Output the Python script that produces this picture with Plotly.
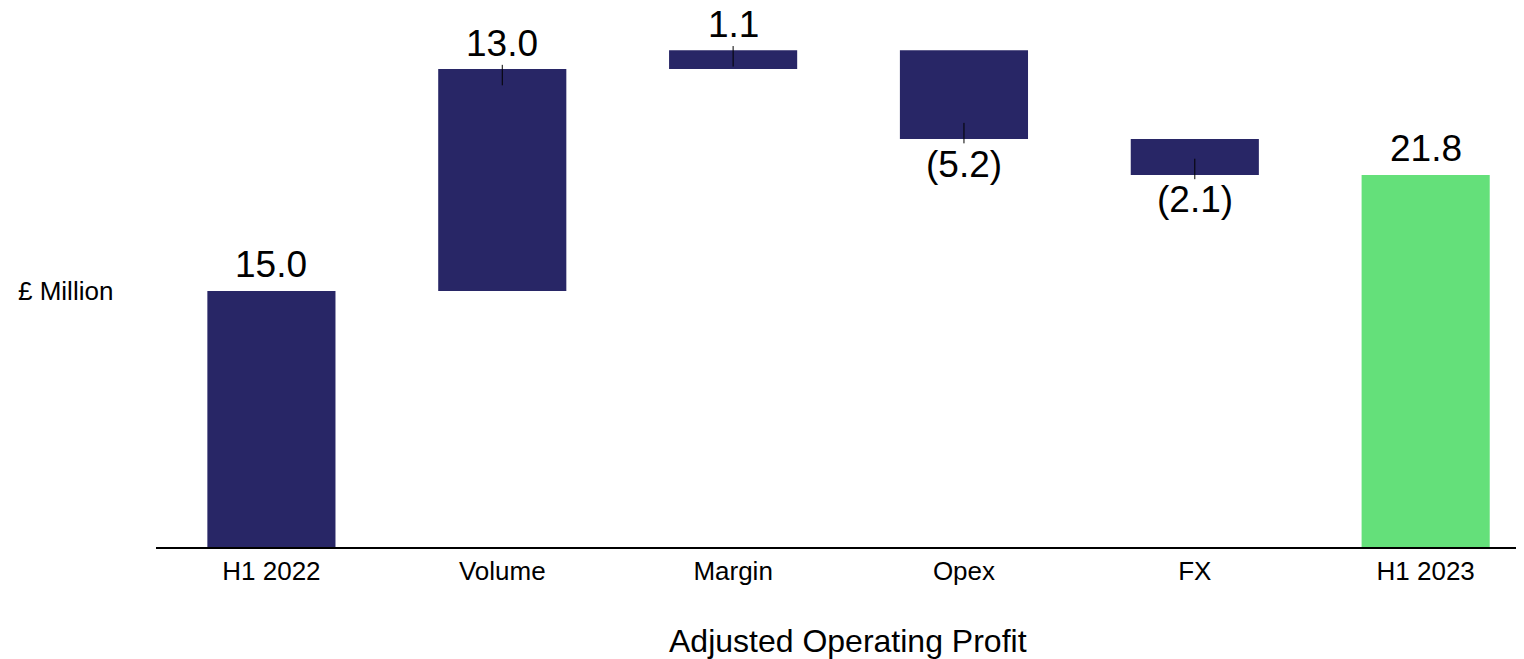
import plotly.graph_objects as go

categories = ["H1 2022", "Volume", "Margin", "Opex", "FX", "H1 2023"]
values = [15.0, 13.0, 1.1, -5.2, -2.1, 21.8]
measures = ["absolute", "relative", "relative", "relative", "relative", "total"]
labels = ["15.0", "13.0", "1.1", "(5.2)", "(2.1)", "21.8"]

NAVY = "#282666"
GREEN = "#64E07A"

bases, heights, ends, colors = [], [], [], []
running = 0.0
for v, m in zip(values, measures):
    if m == "relative":
        start = running
        running = running + v
        bases.append(min(start, running))
        heights.append(abs(v))
        ends.append(running)
        colors.append(NAVY)
    else:
        running = v
        bases.append(0)
        heights.append(v)
        ends.append(v)
        colors.append(GREEN if m == "total" else NAVY)

fig = go.Figure()
fig.add_trace(go.Bar(
    x=categories, y=heights, base=bases, width=0.555,
    marker=dict(color=colors, line=dict(width=0)),
    hoverinfo="skip", showlegend=False,
))

# small leader ticks at relative bar ends
tx, ty = [], []
for c, v, m, e in zip(categories, values, measures, ends):
    if m == "relative":
        s = 1 if v > 0 else -1
        tx += [c, c, None]
        ty += [e - s * 0.95, e + s * 0.25, None]
fig.add_trace(go.Scatter(x=tx, y=ty, mode="lines",
                         line=dict(color="black", width=1),
                         hoverinfo="skip", showlegend=False))

for c, v, e, t in zip(categories, values, ends, labels):
    fig.add_annotation(x=c, y=e, text=t, showarrow=False,
                       yanchor="middle", yshift=26 if v > 0 else -25,
                       font=dict(size=37, color="black", family="Liberation Sans, Arial"))

fig.add_annotation(xref="paper", yref="paper", x=-0.1023, y=0.475,
                   xanchor="left", yanchor="middle", text="£ Million", showarrow=False,
                   font=dict(size=26, color="black", family="Liberation Sans, Arial"))
fig.add_annotation(xref="paper", yref="paper", x=0.506, y=-0.174,
                   xanchor="center", yanchor="middle", text="Adjusted Operating Profit",
                   showarrow=False,
                   font=dict(size=32, color="black", family="Liberation Sans, Arial"))

fig.update_layout(
    width=1516, height=651,
    margin=dict(l=148, r=0, t=0, b=112),
    plot_bgcolor="white", paper_bgcolor="white",
    font=dict(family="Liberation Sans, Arial", color="black"),
    bargap=0.45,
)
fig.update_xaxes(range=[-0.5, 5.426], showline=True, linecolor="black", linewidth=2,
                 ticks="", tickfont=dict(size=26, color="black"), showgrid=False,
                 zeroline=False)
fig.update_yaxes(range=[0, 31.58], visible=False, showgrid=False, zeroline=False)

fig.write_html("out.html")
